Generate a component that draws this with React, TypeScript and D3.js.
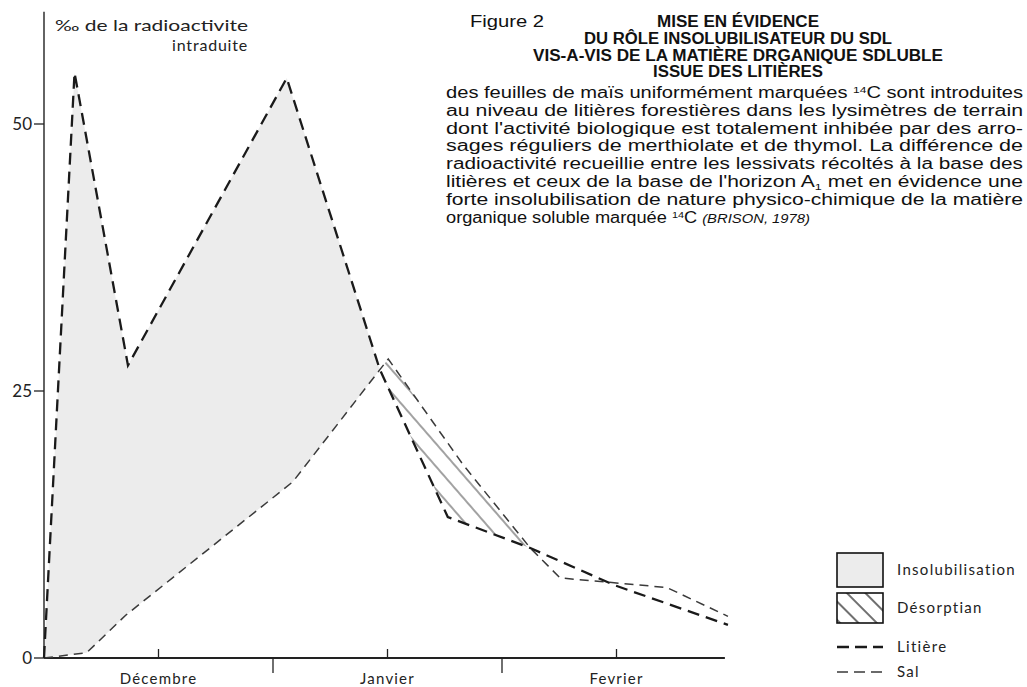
import React from "react";
import * as d3 from "d3";

// ---- data (days since 1 December, ‰ of introduced radioactivity) ----
const litiereDays = [0, 4, 11, 31.8, 44, 52.9, 63.7, 74.8, 89.6];
const litiereVals = [0, 54.8, 27.4, 54.3, 27.0, 13.2, 10.3, 6.8, 3.1];
const solDays = [0, 5.6, 10.7, 32.6, 44, 45.1, 54.9, 63.7, 67.6, 81.6, 89.6];
const solVals = [0, 0.5, 4.0, 16.5, 27.0, 28.0, 18.1, 10.3, 7.5, 6.6, 3.9];

const crossStart = 44; // first crossing (Janvier)
const crossEnd = 63.7; // second crossing

const yTicks = [0, 25, 50];
const months = ["Décembre", "Janvier", "Fevrier"];
const monthCenters = [15, 45, 75];
const monthBounds = [30, 60];
const axisEndDay = 89.2;
const axisTopVal = 60.5;

const titleLines = [
  "MISE EN ÉVIDENCE",
  "DU RÔLE INSOLUBILISATEUR DU SDL",
  "VIS-A-VIS DE LA MATIÈRE DRGANIQUE SDLUBLE",
  "ISSUE DES LITIÈRES",
];
const titleWidths = [162, 308, 410, 170];

type Seg = { t: string; sup?: boolean; sub?: boolean; it?: boolean };
const paragraph: { segs: Seg[]; justify: boolean }[] = [
  { segs: [{ t: "des feuilles de maïs uniformément marquées " }, { t: "14", sup: true }, { t: "C sont introduites" }], justify: true },
  { segs: [{ t: "au niveau de litières forestières dans les lysimètres de terrain" }], justify: true },
  { segs: [{ t: "dont l'activité biologique est totalement inhibée par des arro-" }], justify: true },
  { segs: [{ t: "sages réguliers de merthiolate et de thymol. La différence de" }], justify: true },
  { segs: [{ t: "radioactivité recueillie entre les lessivats récoltés à la base des" }], justify: true },
  { segs: [{ t: "litières et ceux de la base de l'horizon A" }, { t: "1", sub: true }, { t: " met en évidence une" }], justify: true },
  { segs: [{ t: "forte insolubilisation de nature physico-chimique de la matière" }], justify: true },
  { segs: [{ t: "organique soluble marquée " }, { t: "14", sup: true }, { t: "C " }, { t: "(BRISON, 1978)", it: true }], justify: false },
];

const legendItems = [
  { label: "Insolubilisation", kind: "fill" },
  { label: "Désorptian", kind: "hatch" },
  { label: "Litière", kind: "litiere" },
  { label: "Sal", kind: "sol" },
];

const geoFont = "Lato, 'DejaVu Sans', sans-serif";
const helvFont = "'Liberation Sans Narrow', 'Liberation Sans', Arial, sans-serif";

export default function App() {
  const W = 1027;
  const H = 687;
  const x = d3.scaleLinear().domain([0, 90]).range([44, 731]);
  const y = d3.scaleLinear().domain([0, 50]).range([658, 124]);

  const litiere = litiereDays.map((d, i) => [d, litiereVals[i]] as [number, number]);
  const sol = solDays.map((d, i) => [d, solVals[i]] as [number, number]);

  const line = d3
    .line<[number, number]>()
    .x((d) => x(d[0]))
    .y((d) => y(d[1]));

  const insolPoly = [
    ...litiere.filter((p) => p[0] <= crossStart),
    ...sol.filter((p) => p[0] <= crossStart).reverse(),
  ];
  const desorPoly = [
    ...sol.filter((p) => p[0] >= crossStart && p[0] <= crossEnd),
    ...litiere.filter((p) => p[0] >= crossStart && p[0] <= crossEnd).reverse(),
  ];

  const x0 = x(0);
  const y0 = y(0);

  const paraX = 446;
  const paraW = 577;
  const paraY0 = 98;
  const paraDy = 17.8;

  const legX = 837;
  const legW = 46;
  const legTextX = 897;

  return (
    <svg
      width={W}
      height={H}
      viewBox={`0 0 ${W} ${H}`}
      style={{ position: "absolute", left: 0, top: 0, background: "#fff" }}
    >
      <defs>
        <pattern id="hatch" patternUnits="userSpaceOnUse" width={14} height={15} patternTransform="rotate(49)">
          <line x1={0} y1={7} x2={14} y2={7} stroke="#555" strokeWidth={1.1} />
        </pattern>
        <pattern id="hatchLeg" patternUnits="userSpaceOnUse" width={13} height={13} patternTransform="translate(837,593) rotate(45)">
          <line x1={0} y1={6} x2={13} y2={6} stroke="#222" strokeWidth={1.3} />
        </pattern>
      </defs>

      {/* areas */}
      <path d={line(insolPoly) + "Z"} fill="#ececec" stroke="none" />
      <path d={line(desorPoly) + "Z"} fill="url(#hatch)" stroke="none" />

      {/* axes */}
      <line x1={x0} y1={y(axisTopVal)} x2={x0} y2={y0} stroke="#222" strokeWidth={1.4} />
      <line x1={x0} y1={y0} x2={x(axisEndDay)} y2={y0} stroke="#222" strokeWidth={2} />
      {yTicks.map((t) => (
        <g key={t}>
          <line x1={x0 - 10} x2={x0} y1={y(t)} y2={y(t)} stroke="#222" strokeWidth={1.3} />
          <text
            x={x0 - 12}
            y={y(t)}
            dy="0.36em"
            textAnchor="end"
            fontFamily={geoFont}
            fontSize={17}
            fill="#222"
          >
            {t}
          </text>
        </g>
      ))}
      {monthCenters.map((d, i) => (
        <g key={months[i]}>
          <line x1={x(d)} x2={x(d)} y1={y0} y2={y0 - 9} stroke="#222" strokeWidth={1.3} />
          <text
            x={x(d)}
            y={684}
            textAnchor="middle"
            fontFamily={geoFont}
            fontSize={15}
            letterSpacing={1.2}
            fill="#222"
          >
            {months[i]}
          </text>
        </g>
      ))}
      {monthBounds.map((d) => (
        <line key={d} x1={x(d)} x2={x(d)} y1={y0} y2={y0 + 15} stroke="#222" strokeWidth={1.3} />
      ))}

      {/* axis title */}
      <text x={55} y={31} fontFamily={geoFont} fontSize={16} fill="#222" textLength={193} lengthAdjust="spacingAndGlyphs">
        ‰ de la radioactivite
      </text>
      <text x={248} y={51} textAnchor="end" fontFamily={geoFont} fontSize={16} fill="#222" letterSpacing={0.8}>
        intraduite
      </text>

      {/* lines */}
      <path d={line(sol) || ""} fill="none" stroke="#3a3a3a" strokeWidth={1.5} strokeDasharray="9 6" />
      <path d={line(litiere) || ""} fill="none" stroke="#1a1a1a" strokeWidth={2.3} strokeDasharray="12 7" />

      {/* title block */}
      <text x={470} y={27} fontFamily={helvFont} fontSize={16} fill="#111" textLength={74} lengthAdjust="spacingAndGlyphs">
        Figure 2
      </text>
      {titleLines.map((t, i) => (
        <text
          key={t}
          x={738}
          y={27 + i * 16.8}
          textAnchor="middle"
          fontFamily={helvFont}
          fontWeight="bold"
          fontSize={16}
          fill="#111"
          textLength={titleWidths[i]}
          lengthAdjust="spacingAndGlyphs"
        >
          {t}
        </text>
      ))}
      {paragraph.map((ln, i) => (
        <text
          key={i}
          x={paraX}
          y={paraY0 + i * paraDy}
          fontFamily={helvFont}
          fontSize={16}
          fill="#111"
          textLength={ln.justify ? paraW : 364}
          lengthAdjust="spacingAndGlyphs"
        >
          {ln.segs.map((s, j) => {
            if (s.sup)
              return (
                <tspan key={j} fontSize={9.5} dy={-5}>
                  {s.t}
                </tspan>
              );
            if (s.sub)
              return (
                <tspan key={j} fontSize={9.5} dy={3}>
                  {s.t}
                </tspan>
              );
            const prev = ln.segs[j - 1];
            const dy = prev && prev.sup ? 5 : prev && prev.sub ? -3 : 0;
            return (
              <tspan key={j} dy={dy} fontStyle={s.it ? "italic" : "normal"} fontSize={s.it ? 13 : 16}>
                {s.t}
              </tspan>
            );
          })}
        </text>
      ))}

      {/* legend */}
      {legendItems.map((it, i) => {
        const rowY = [570, 608, 647, 672][i];
        return (
          <g key={it.label}>
            {it.kind === "fill" && (
              <rect x={legX} y={553} width={legW} height={34} fill="#ececec" stroke="#111" strokeWidth={1.6} />
            )}
            {it.kind === "hatch" && (
              <rect x={legX} y={593} width={legW} height={30} fill="url(#hatchLeg)" stroke="#111" strokeWidth={1.6} />
            )}
            {it.kind === "litiere" && (
              <line x1={legX} x2={legX + legW} y1={rowY} y2={rowY} stroke="#1a1a1a" strokeWidth={2.3} strokeDasharray="12 6" />
            )}
            {it.kind === "sol" && (
              <line x1={legX} x2={legX + legW} y1={rowY} y2={rowY} stroke="#3a3a3a" strokeWidth={1.5} strokeDasharray="11 6" />
            )}
            <text
              x={legTextX}
              y={rowY}
              dy="0.35em"
              fontFamily={geoFont}
              fontSize={15}
              letterSpacing={1.3}
              fill="#222"
            >
              {it.label}
            </text>
          </g>
        );
      })}
    </svg>
  );
}
